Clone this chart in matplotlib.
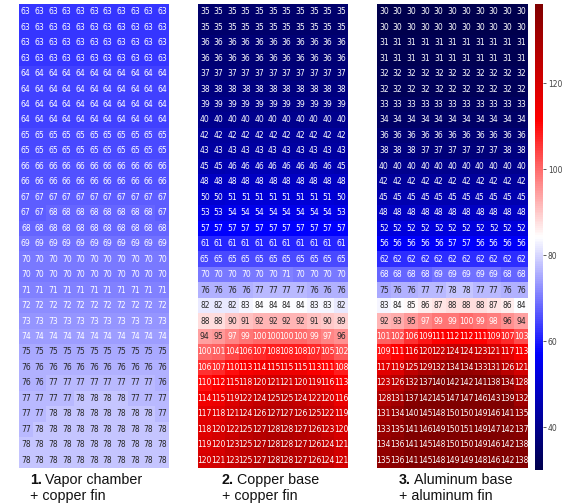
import matplotlib
matplotlib.use("Agg")
import matplotlib.pyplot as plt
import numpy as np
import seaborn as sns

# temperature maps (11 columns x 30 rows) for the three heat sink builds
vapor_chamber_copper_fin = [
    [63, 63, 63, 63, 63, 63, 63, 63, 63, 63, 63],
    [63, 63, 63, 63, 63, 63, 63, 63, 63, 63, 63],
    [63, 63, 63, 63, 63, 63, 63, 63, 63, 63, 63],
    [63, 63, 63, 63, 63, 63, 63, 63, 63, 63, 63],
    [64, 64, 64, 64, 64, 64, 64, 64, 64, 64, 64],
    [64, 64, 64, 64, 64, 64, 64, 64, 64, 64, 64],
    [64, 64, 64, 64, 64, 64, 64, 64, 64, 64, 64],
    [64, 64, 64, 64, 64, 64, 64, 64, 64, 64, 64],
    [65, 65, 65, 65, 65, 65, 65, 65, 65, 65, 65],
    [65, 65, 65, 65, 65, 65, 65, 65, 65, 65, 65],
    [66, 66, 66, 66, 66, 66, 66, 66, 66, 66, 66],
    [66, 66, 66, 66, 66, 66, 66, 66, 66, 66, 66],
    [67, 67, 67, 67, 67, 67, 67, 67, 67, 67, 67],
    [67, 67, 68, 68, 68, 68, 68, 68, 68, 68, 67],
    [68, 68, 68, 68, 68, 68, 68, 68, 68, 68, 68],
    [69, 69, 69, 69, 69, 69, 69, 69, 69, 69, 69],
    [70, 70, 70, 70, 70, 70, 70, 70, 70, 70, 70],
    [70, 70, 70, 70, 70, 70, 70, 70, 70, 70, 70],
    [71, 71, 71, 71, 71, 71, 71, 71, 71, 71, 71],
    [72, 72, 72, 72, 72, 72, 72, 72, 72, 72, 72],
    [73, 73, 73, 73, 73, 73, 73, 73, 73, 73, 73],
    [74, 74, 74, 74, 74, 74, 74, 74, 74, 74, 74],
    [75, 75, 75, 75, 75, 75, 75, 75, 75, 75, 75],
    [76, 76, 76, 76, 76, 76, 76, 76, 76, 76, 76],
    [76, 76, 77, 77, 77, 77, 77, 77, 77, 77, 76],
    [77, 77, 77, 77, 78, 78, 78, 78, 77, 77, 77],
    [77, 77, 78, 78, 78, 78, 78, 78, 78, 78, 77],
    [77, 78, 78, 78, 78, 78, 78, 78, 78, 78, 78],
    [78, 78, 78, 78, 78, 78, 78, 78, 78, 78, 78],
    [78, 78, 78, 78, 78, 78, 78, 78, 78, 78, 78],
]

copper_base_copper_fin = [
    [35, 35, 35, 35, 35, 35, 35, 35, 35, 35, 35],
    [35, 35, 35, 35, 35, 35, 35, 35, 35, 35, 35],
    [36, 36, 36, 36, 36, 36, 36, 36, 36, 36, 36],
    [36, 36, 36, 36, 36, 36, 36, 36, 36, 36, 36],
    [37, 37, 37, 37, 37, 37, 37, 37, 37, 37, 37],
    [38, 38, 38, 38, 38, 38, 38, 38, 38, 38, 38],
    [39, 39, 39, 39, 39, 39, 39, 39, 39, 39, 39],
    [40, 40, 40, 40, 40, 40, 40, 40, 40, 40, 40],
    [42, 42, 42, 42, 42, 42, 42, 42, 42, 42, 42],
    [43, 43, 43, 43, 43, 43, 43, 43, 43, 43, 43],
    [45, 45, 46, 46, 46, 46, 46, 46, 46, 46, 45],
    [48, 48, 48, 48, 48, 48, 48, 48, 48, 48, 48],
    [50, 50, 51, 51, 51, 51, 51, 51, 51, 51, 50],
    [53, 53, 54, 54, 54, 54, 54, 54, 54, 54, 53],
    [57, 57, 57, 57, 57, 57, 57, 57, 57, 57, 57],
    [61, 61, 61, 61, 61, 61, 61, 61, 61, 61, 61],
    [65, 65, 65, 65, 65, 65, 65, 65, 65, 65, 65],
    [70, 70, 70, 70, 70, 70, 71, 70, 70, 70, 70],
    [76, 76, 76, 76, 77, 77, 77, 77, 76, 76, 76],
    [82, 82, 82, 83, 84, 84, 84, 84, 83, 83, 82],
    [88, 88, 90, 91, 92, 92, 92, 92, 91, 90, 89],
    [94, 95, 97, 99, 100, 100, 100, 100, 99, 97, 96],
    [100, 101, 104, 106, 107, 108, 108, 108, 107, 105, 102],
    [106, 107, 110, 113, 114, 115, 115, 115, 113, 111, 108],
    [110, 112, 115, 118, 120, 121, 121, 120, 119, 116, 113],
    [114, 115, 119, 122, 124, 125, 125, 124, 122, 120, 116],
    [117, 118, 121, 124, 126, 127, 127, 126, 125, 122, 119],
    [118, 120, 122, 125, 127, 128, 128, 127, 126, 123, 120],
    [119, 120, 123, 125, 127, 128, 128, 127, 126, 124, 121],
    [120, 121, 123, 125, 127, 128, 128, 127, 126, 124, 121],
]

aluminum_base_aluminum_fin = [
    [30, 30, 30, 30, 30, 30, 30, 30, 30, 30, 30],
    [30, 30, 30, 30, 30, 30, 30, 30, 30, 30, 30],
    [31, 31, 31, 31, 31, 31, 31, 31, 31, 31, 31],
    [31, 31, 31, 31, 31, 31, 31, 31, 31, 31, 31],
    [32, 32, 32, 32, 32, 32, 32, 32, 32, 32, 32],
    [32, 32, 32, 32, 32, 32, 32, 32, 32, 32, 32],
    [33, 33, 33, 33, 33, 33, 33, 33, 33, 33, 33],
    [34, 34, 34, 34, 34, 34, 34, 34, 34, 34, 34],
    [36, 36, 36, 36, 36, 36, 36, 36, 36, 36, 36],
    [38, 38, 38, 37, 37, 37, 37, 37, 37, 38, 38],
    [40, 40, 40, 40, 40, 40, 40, 40, 40, 40, 40],
    [42, 42, 42, 42, 42, 42, 42, 42, 42, 42, 42],
    [45, 45, 45, 45, 45, 45, 45, 45, 45, 45, 45],
    [48, 48, 48, 48, 48, 48, 48, 48, 48, 48, 48],
    [52, 52, 52, 52, 52, 52, 52, 52, 52, 52, 52],
    [56, 56, 56, 56, 56, 57, 57, 56, 56, 56, 56],
    [62, 62, 62, 62, 62, 62, 62, 62, 62, 62, 62],
    [68, 68, 68, 68, 69, 69, 69, 69, 69, 68, 68],
    [75, 76, 76, 77, 77, 78, 78, 77, 77, 76, 76],
    [83, 84, 85, 86, 87, 88, 88, 88, 87, 86, 84],
    [92, 93, 95, 97, 99, 99, 100, 99, 98, 96, 94],
    [101, 102, 106, 109, 111, 112, 112, 111, 109, 107, 103],
    [109, 111, 116, 120, 122, 124, 124, 123, 121, 117, 113],
    [117, 119, 125, 129, 132, 134, 134, 133, 131, 126, 121],
    [123, 126, 132, 137, 140, 142, 142, 141, 138, 134, 128],
    [128, 131, 137, 142, 145, 147, 147, 146, 143, 139, 132],
    [131, 134, 140, 145, 148, 150, 150, 149, 146, 141, 135],
    [133, 135, 141, 146, 149, 150, 151, 149, 147, 142, 137],
    [134, 136, 141, 145, 148, 150, 150, 149, 146, 142, 138],
    [135, 136, 141, 145, 148, 149, 149, 148, 146, 142, 138],
]

numbers = ["1.", "2.", "3."]
captions = [("Vapor chamber", "+ copper fin"),
            ("Copper base", "+ copper fin"),
            ("Aluminum base", "+ aluminum fin")]

vmin, vmax = 30, 138.5

fig = plt.figure(figsize=(5.67, 5.03), dpi=100)
W, H = 567.0, 503.0

# panel positions in pixels: (left, width)
panels = [(19, 150), (198, 150), (377, 151)]
top, bottom = 4, 468
caption_x = [30, 222, 399]

datasets = [vapor_chamber_copper_fin, copper_base_copper_fin, aluminum_base_aluminum_fin]

cax = fig.add_axes([535 / W, 1 - 470 / H, 8 / W, (470 - top) / H])

for i, (data, (left, width)) in enumerate(zip(datasets, panels)):
    ax = fig.add_axes([left / W, 1 - bottom / H, width / W, (bottom - top) / H])
    last = i == len(datasets) - 1
    sns.heatmap(np.array(data), ax=ax, cmap="seismic", vmin=vmin, vmax=vmax,
                annot=True, fmt="d", annot_kws={"size": 5.5},
                cbar=last, cbar_ax=cax if last else None,
                xticklabels=False, yticklabels=False)

    # caption under each panel, bold number then the description
    x0 = caption_x[i] / W
    t = fig.text(x0, 1 - 480 / H, numbers[i], fontsize=10.3, fontweight="bold",
                 family="Liberation Sans", va="center", color="#111111")
    fig.canvas.draw()
    bb = t.get_window_extent()
    fig.text((bb.x1 + 3) / W, 1 - 480 / H, captions[i][0], fontsize=10.3,
             family="Liberation Sans", va="center", color="#111111")
    fig.text(x0, 1 - 496 / H, captions[i][1], fontsize=10.3,
             family="Liberation Sans", va="center", color="#111111")

cax.tick_params(labelsize=5.5, length=2, width=0.6, colors="#444444", pad=1.5)
cax.set_yticks([40, 60, 80, 100, 120])
for s in cax.spines.values():
    s.set_visible(False)

fig.savefig("out.png", dpi=100)
